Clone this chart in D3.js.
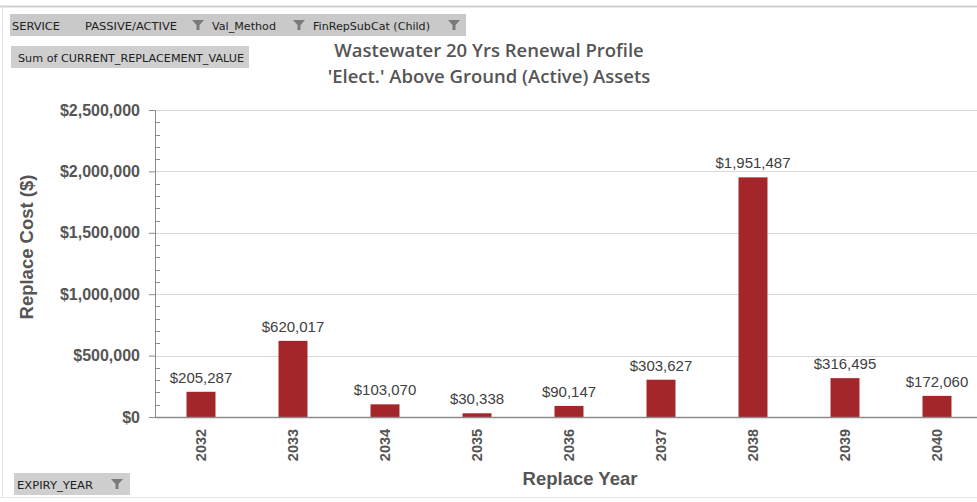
<!DOCTYPE html>
<html>
<head>
<meta charset="utf-8">
<script src="https://cdn.jsdelivr.net/npm/d3@7"></script>
<style>
  html, body { margin: 0; padding: 0; background: #fff; }
  svg { display: block; }
</style>
</head>
<body>
<svg id="chart" width="977" height="502"></svg>
<script>
// Renewal profile data: replacement cost per expiry year
const years = ["2032", "2033", "2034", "2035", "2036", "2037", "2038", "2039", "2040"];
const replaceCost = [205287, 620017, 103070, 30338, 90147, 303627, 1951487, 316495, 172060];
const yTicks = [0, 500000, 1000000, 1500000, 2000000, 2500000];
const titleLines = ["Wastewater 20 Yrs Renewal Profile", "'Elect.' Above Ground (Active) Assets"];
const filterFields = ["SERVICE", "PASSIVE/ACTIVE", "Val_Method", "FinRepSubCat (Child)"];

const svg = d3.select("#chart");
const W = 977, H = 502;
const plot = { left: 155, top: 110, bottom: 417, step: 92 };

const x = d3.scaleBand()
  .domain(years)
  .range([plot.left, plot.left + plot.step * years.length])
  .paddingInner(0.685)
  .paddingOuter(0.3425);

const y = d3.scaleLinear().domain([0, 2500000]).range([plot.bottom, plot.top]);

const fmt = d3.format("$,.0f");
const arial = "'Liberation Sans', Arial, sans-serif";

// Frame
svg.append("line").attr("x1", 0).attr("x2", W).attr("y1", 6.5).attr("y2", 6.5)
  .attr("stroke", "#cfcfcf").attr("stroke-width", 2);
svg.append("line").attr("x1", 2.5).attr("x2", 2.5).attr("y1", 6).attr("y2", 497)
  .attr("stroke", "#e2e2e2").attr("stroke-width", 1);
svg.append("line").attr("x1", 0).attr("x2", W).attr("y1", 497.5).attr("y2", 497.5)
  .attr("stroke", "#e6e6e6").attr("stroke-width", 1);

// Filter funnel glyph
function funnel(g, cx, cy) {
  g.append("path")
    .attr("d", `M${cx - 6},${cy - 5} L${cx + 6},${cy - 5} L${cx + 1.5},${cy} L${cx + 1.5},${cy + 5} L${cx - 1.5},${cy + 5} L${cx - 1.5},${cy} Z`)
    .attr("fill", "#7a7a7a");
}

// Pivot field buttons
const btnFont = "'DejaVu Sans', sans-serif";
const topBar = svg.append("g");
topBar.append("rect").attr("x", 10).attr("y", 14).attr("width", 456).attr("height", 22)
  .attr("fill", "#c9c9c9");
const fieldX = [12, 85, 212, 313];
const fieldW = [48, 92, 64, 117];
filterFields.forEach((f, i) => {
  topBar.append("text").attr("x", fieldX[i]).attr("y", 29.5)
    .attr("font-family", btnFont).attr("font-size", 11).attr("fill", "#222")
    .attr("textLength", fieldW[i]).attr("lengthAdjust", "spacingAndGlyphs")
    .text(f);
});
[198, 299, 454].forEach(cx => funnel(topBar, cx, 25));

const valBtn = svg.append("g");
valBtn.append("rect").attr("x", 11).attr("y", 46).attr("width", 238).attr("height", 22)
  .attr("fill", "#cfcfcf");
valBtn.append("text").attr("x", 18).attr("y", 61.5)
  .attr("font-family", btnFont).attr("font-size", 11).attr("fill", "#222")
  .attr("textLength", 226).attr("lengthAdjust", "spacingAndGlyphs")
  .text("Sum of CURRENT_REPLACEMENT_VALUE");

const rowBtn = svg.append("g");
rowBtn.append("rect").attr("x", 14).attr("y", 473).attr("width", 116).attr("height", 22)
  .attr("fill", "#cfcfcf");
rowBtn.append("text").attr("x", 17).attr("y", 488.5)
  .attr("font-family", btnFont).attr("font-size", 11).attr("fill", "#222")
  .attr("textLength", 76).attr("lengthAdjust", "spacingAndGlyphs")
  .text("EXPIRY_YEAR");
funnel(rowBtn, 117, 484);

// Title
svg.append("g").selectAll("text").data(titleLines).join("text")
  .attr("x", 489).attr("y", (d, i) => 57 + i * 26)
  .attr("text-anchor", "middle")
  .attr("font-family", "'Open Sans', sans-serif").attr("font-weight", 600)
  .attr("font-size", 18.5).attr("fill", "#555")
  .text(d => d);

// Gridlines
svg.append("g").selectAll("line").data(yTicks.slice(1)).join("line")
  .attr("x1", plot.left).attr("x2", W)
  .attr("y1", d => Math.round(y(d)) + 0.5).attr("y2", d => Math.round(y(d)) + 0.5)
  .attr("stroke", "#d9d9d9").attr("stroke-width", 1);

// Y axis: major labelled ticks plus minor ticks
const yAxis = svg.append("g").attr("transform", `translate(${plot.left},0)`)
  .call(d3.axisLeft(y).tickValues(yTicks).tickFormat(fmt).tickSize(6).tickPadding(9));
yAxis.select(".domain").attr("stroke", "#8c8c8c");
yAxis.selectAll(".tick line").attr("stroke", "#8c8c8c");
yAxis.selectAll(".tick text")
  .attr("font-family", arial)
  .attr("font-size", 16).attr("font-weight", "bold").attr("fill", "#555");

const minor = d3.range(100000, 2500000, 100000).filter(v => v % 500000 !== 0);
svg.append("g").selectAll("line").data(minor).join("line")
  .attr("x1", plot.left).attr("x2", plot.left + 5)
  .attr("y1", d => Math.round(y(d)) + 0.5).attr("y2", d => Math.round(y(d)) + 0.5)
  .attr("stroke", "#8c8c8c");

// Bars
svg.append("g").selectAll("rect").data(years).join("rect")
  .attr("x", d => x(d))
  .attr("width", x.bandwidth())
  .attr("y", (d, i) => y(replaceCost[i]))
  .attr("height", (d, i) => plot.bottom - y(replaceCost[i]))
  .attr("fill", "#a3262b");

// Value labels
svg.append("g").selectAll("text").data(years).join("text")
  .attr("x", d => x(d) + x.bandwidth() / 2)
  .attr("y", (d, i) => y(replaceCost[i]) - 9)
  .attr("text-anchor", "middle")
  .attr("font-family", arial)
  .attr("font-size", 15).attr("fill", "#404040")
  .text((d, i) => fmt(replaceCost[i]));

// X axis
const xAxis = svg.append("g").attr("transform", `translate(0,${plot.bottom})`)
  .call(d3.axisBottom(x).tickSize(0).tickPadding(0));
xAxis.select(".domain").attr("d", `M${plot.left},0.5H${W}`).attr("stroke", "#8c8c8c").attr("stroke-width", 1.5);
xAxis.selectAll(".tick text")
  .attr("transform", "translate(0,28) rotate(-90)")
  .attr("text-anchor", "middle").attr("dy", "0.35em").attr("y", 0)
  .attr("font-family", arial)
  .attr("font-size", 14.5).attr("font-weight", "bold").attr("fill", "#555");

// Axis titles
svg.append("text")
  .attr("transform", "translate(33,247) rotate(-90)")
  .attr("text-anchor", "middle")
  .attr("font-family", arial)
  .attr("font-size", 18.5).attr("font-weight", "bold").attr("fill", "#555")
  .text("Replace Cost ($)");

svg.append("text")
  .attr("x", 580).attr("y", 485)
  .attr("text-anchor", "middle")
  .attr("font-family", arial)
  .attr("font-size", 18.5).attr("font-weight", "bold").attr("fill", "#555")
  .text("Replace Year");
</script>
</body>
</html>
